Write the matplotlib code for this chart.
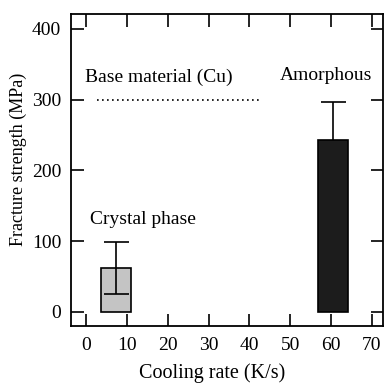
import matplotlib.pyplot as plt

plt.rcParams["font.family"] = ["Liberation Serif", "DejaVu Serif"]

# data
phases = ["Crystal phase", "Amorphous"]
rates = [7.4, 60.5]
strength = [62, 243]
errors = [37, 53]
colors = ["#c4c4c4", "#1c1c1c"]
base_strength = 300
base_range = [2.7, 42.3]
xticks = [0, 10, 20, 30, 40, 50, 60, 70]
yticks = [0, 100, 200, 300, 400]

fig = plt.figure(
    figsize=(3.86, 3.83),
    dpi=100,
)
ax = fig.add_axes([71 / 386, 57 / 383, 312 / 386, 312 / 383])

ax.bar(
    rates,
    strength,
    width=7.4,
    color=colors,
    edgecolor="black",
    linewidth=1.2,
    zorder=2,
)

# crystal error bar sits over the grey bar, amorphous one behind the dark bar
for i, z in zip(range(2), [3, 1]):
    ax.errorbar(
        rates[i],
        strength[i],
        yerr=errors[i],
        fmt="none",
        ecolor="black",
        elinewidth=1.2,
        capsize=9,
        capthick=1.2,
        zorder=z,
    )

ax.plot(
    base_range,
    [base_strength, base_strength],
    linestyle=(0, (1, 2)),
    color="black",
    linewidth=1.2,
)

fs = 14
ax.text(17.7, 332, "Base material (Cu)", ha="center", va="center", fontsize=fs)
ax.text(58.7, 334, phases[1], ha="center", va="center", fontsize=fs)
ax.text(14, 130, phases[0], ha="center", va="center", fontsize=fs)

ax.set_xlim(-3.7, 72.7)
ax.set_ylim(-20, 421)
ax.set_xticks(xticks)
ax.set_yticks(yticks)
ax.tick_params(
    direction="in",
    length=9,
    width=1.2,
    top=True,
    right=True,
    labelsize=fs,
)
ax.tick_params(axis="x", pad=8)
ax.tick_params(axis="y", pad=7)
for s in ax.spines.values():
    s.set_linewidth(1.3)

ax.set_xlabel("Cooling rate (K/s)", fontsize=14.5, va="center")
ax.xaxis.set_label_coords(0.452, -0.15)
ax.set_ylabel("Fracture strength (MPa)", fontsize=13, va="center")
ax.yaxis.set_label_coords(-0.17, 0.535)

plt.savefig("out.png")
